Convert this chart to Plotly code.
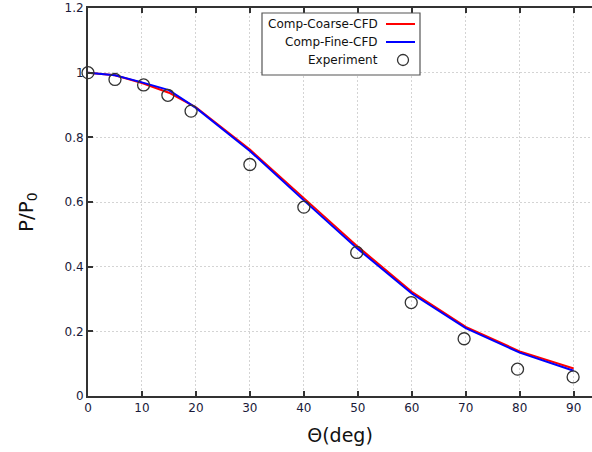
import plotly.graph_objects as go

# Data
theta_cfd = [0, 5, 10, 15, 20, 30, 40, 50, 60, 70, 80, 90]
coarse_cfd = [1.0, 0.992, 0.968, 0.938, 0.893, 0.762, 0.612, 0.462, 0.322, 0.214, 0.138, 0.085]
fine_cfd = [1.0, 0.992, 0.970, 0.946, 0.891, 0.758, 0.605, 0.455, 0.317, 0.210, 0.134, 0.078]
theta_exp = [0, 5, 10.3, 14.8, 19.1, 30, 40, 49.8, 59.9, 69.7, 79.6, 89.9]
p_exp = [1.0, 0.979, 0.962, 0.930, 0.881, 0.716, 0.584, 0.444, 0.289, 0.177, 0.083, 0.059]

x_ticks = [0, 10, 20, 30, 40, 50, 60, 70, 80, 90]
y_ticks = [0, 0.2, 0.4, 0.6, 0.8, 1.0, 1.2]
y_tick_text = ["0", "0.2", "0.4", "0.6", "0.8", "1", "1.2"]
legend_names = ["Comp-Coarse-CFD", "Comp-Fine-CFD", "Experiment"]

FONT = "DejaVu Sans"
W, H = 592, 452
ML, MT, MR, MB = 88, 8, 0, 56

fig = go.Figure()
fig.add_trace(go.Scatter(x=theta_cfd, y=coarse_cfd, mode="lines",
                         line=dict(color="#ff0000", width=2), name=legend_names[0], showlegend=False))
fig.add_trace(go.Scatter(x=theta_cfd, y=fine_cfd, mode="lines",
                         line=dict(color="#0000ff", width=2), name=legend_names[1], showlegend=False))
fig.add_trace(go.Scatter(x=theta_exp, y=p_exp, mode="markers",
                         marker=dict(symbol="circle-open", size=12, color="#333333", line=dict(width=1.3)),
                         name=legend_names[2], showlegend=False, cliponaxis=False))

# Custom legend (paper coordinates computed from pixels)
pw, ph = W - ML - MR, H - MT - MB
def px(xp):
    return (xp - ML) / pw
def py(yp):
    return 1 - (yp - MT) / ph

shapes = [dict(type="rect", xref="paper", yref="paper",
               x0=px(262), x1=px(420), y0=py(75), y1=py(13),
               line=dict(color="#555555", width=1.2), fillcolor="white", layer="above")]
annotations = []
rows = [24, 42, 60]
colors = ["#ff0000", "#0000ff", None]
for name, yr, c in zip(legend_names, rows, colors):
    annotations.append(dict(x=px(380), y=py(yr), xref="paper", yref="paper", text=name,
                            showarrow=False, xanchor="right", yanchor="middle",
                            font=dict(family=FONT, size=12, color="#111111")))
    if c:
        shapes.append(dict(type="line", xref="paper", yref="paper",
                           x0=px(386), x1=px(415), y0=py(yr), y1=py(yr),
                           line=dict(color=c, width=2), layer="above"))
    else:
        shapes.append(dict(type="circle", xref="paper", yref="paper",
                           x0=px(397.5), x1=px(408.5), y0=py(yr + 5.5), y1=py(yr - 5.5),
                           line=dict(color="#333333", width=1.3), layer="above"))

# Y-axis title placed as rotated annotation, slightly below plot centre as in the reference
annotations.append(dict(x=px(27), y=py(212), xref="paper", yref="paper", text="P/P<sub>0</sub>",
                        showarrow=False, textangle=-90, xanchor="center", yanchor="middle",
                        font=dict(family=FONT, size=20, color="#111111")))

fig.update_layout(
    width=W, height=H,
    margin=dict(l=ML, r=MR, t=MT, b=MB, pad=0),
    plot_bgcolor="white", paper_bgcolor="white",
    font=dict(family=FONT, size=12, color="#1a1a3a"),
    shapes=shapes, annotations=annotations,
    showlegend=False,
)
fig.update_xaxes(range=[0, 93.4], tickvals=x_ticks, ticks="inside", ticklen=5, tickwidth=1.5,
                 tickcolor="#333333", showline=True, linecolor="#333333", linewidth=2,
                 mirror="ticks", showgrid=True, gridcolor="#d4d4d4", griddash="2px,2px", gridwidth=1,
                 zeroline=False,
                 title=dict(text="Θ(deg)", font=dict(family=FONT, size=19, color="#111111"), standoff=14),
                 tickfont=dict(family=FONT, size=12, color="#1a1a3a"))
fig.update_yaxes(range=[0, 1.2], tickvals=y_ticks, ticktext=y_tick_text, ticks="inside", ticklen=5,
                 tickwidth=1.5, tickcolor="#333333", showline=True, linecolor="#333333", linewidth=2,
                 showgrid=True, gridcolor="#d4d4d4", griddash="2px,2px", gridwidth=1, zeroline=False,
                 tickfont=dict(family=FONT, size=12, color="#1a1a3a"))

fig.write_html("out.html")
